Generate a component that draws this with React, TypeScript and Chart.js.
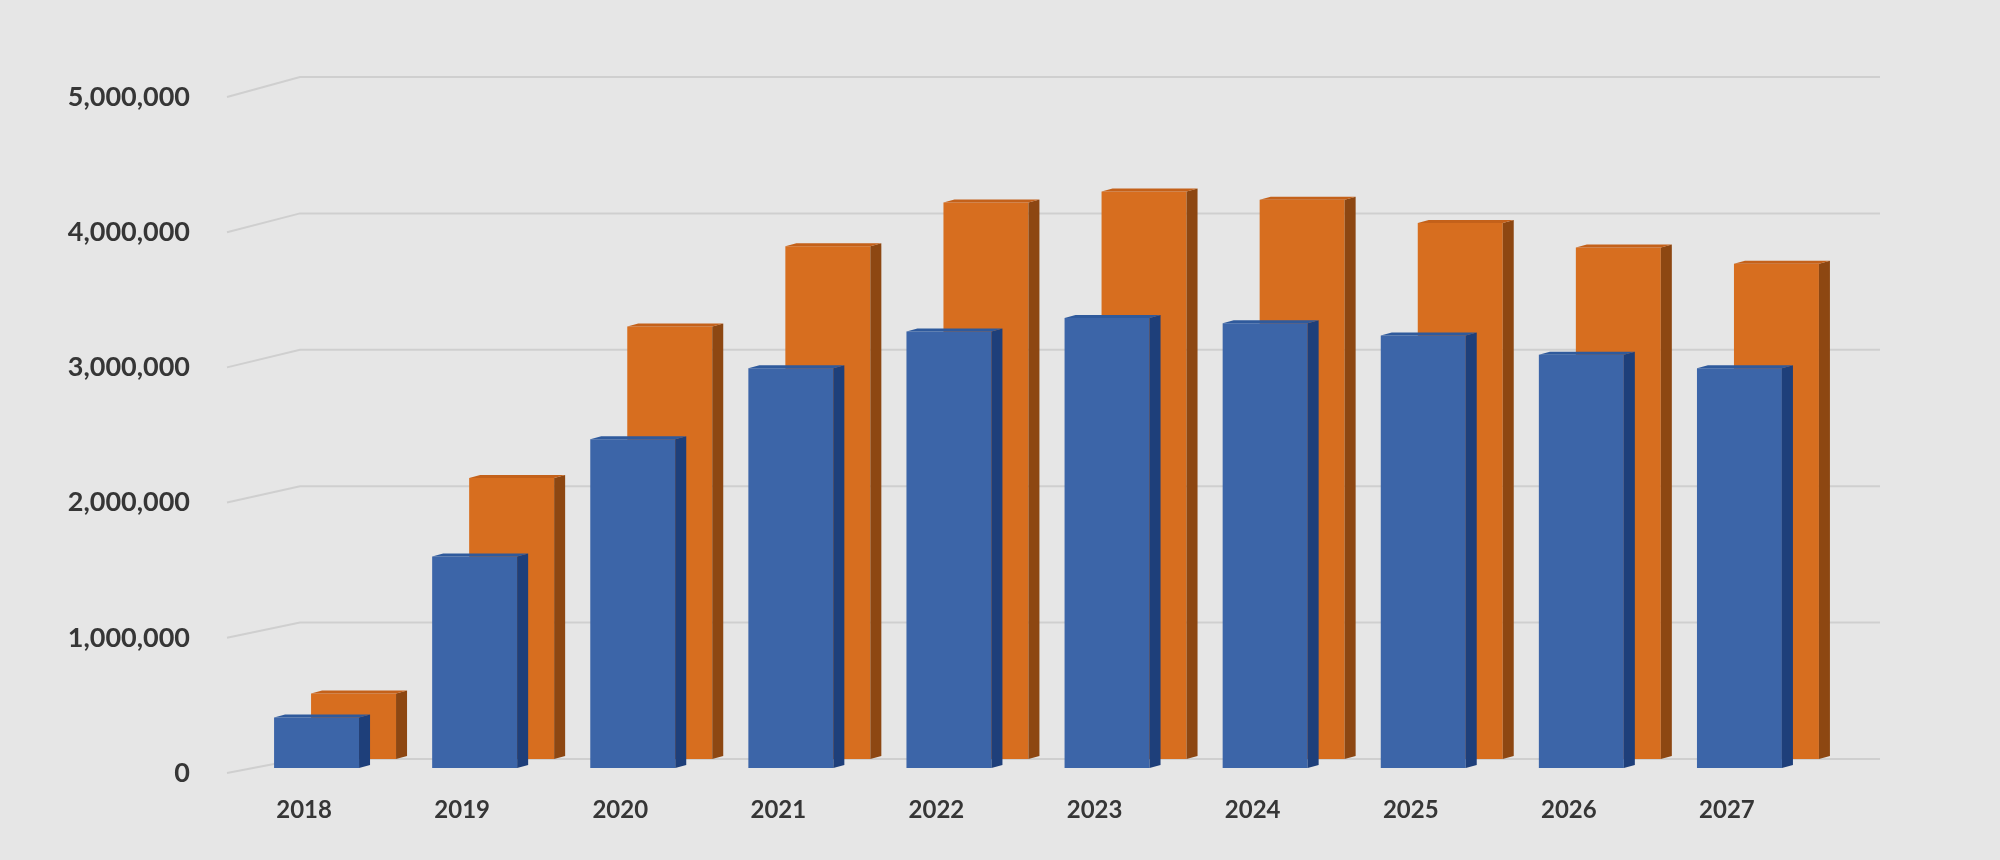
import React, { useEffect, useRef } from "react";
import { Chart, registerables } from "chart.js";

Chart.register(...registerables);

// ---- Data ----
const years = ["2018", "2019", "2020", "2021", "2022", "2023", "2024", "2025", "2026", "2027"];
const frontSeries = [370000, 1550000, 2410000, 2930000, 3200000, 3300000, 3260000, 3170000, 3030000, 2930000];
const backSeries = [480000, 2060000, 3170000, 3760000, 4080000, 4160000, 4100000, 3930000, 3750000, 3630000];
const yTickValues = [0, 1000000, 2000000, 3000000, 4000000, 5000000];

// ---- Layout ----
const W = 2000;
const H = 860;
const PAD_TOP = 60;
const X_AXIS_H = 70;
const PLOT_BOTTOM = H - X_AXIS_H;
const PLOT_LEFT = 256;
const PAD_RIGHT = 163;

function rangeFor(zeroPx: number, pxPerUnit: number) {
  const min = -(PLOT_BOTTOM - zeroPx) / pxPerUnit;
  const max = min + (PLOT_BOTTOM - PAD_TOP) / pxPerUnit;
  return { min, max };
}
const frontRange = rangeFor(768, 136.4e-6);
const backRange = rangeFor(759, 136.4e-6);
const labelRange = rangeFor(773, 135.2e-6);

const BG = "#e6e6e6";
const GRID = "#cfcfcf";
const TEXT = "#363636";
const FONT = "Lato, 'Open Sans', 'DejaVu Sans', sans-serif";

const faceColors: Record<number, { side: string; top: string }> = {
  0: { side: "#1e3f7a", top: "#2f5a9c" },
  1: { side: "#8d4712", top: "#c4611a" },
};

const DEPTH_DX = 11;
const DEPTH_DY = -3;

const gridPlugin = {
  id: "wallGrid",
  beforeDatasetsDraw(chart: any) {
    const { ctx, chartArea, scales } = chart;
    const front = scales.yl;
    const back = scales.y2;
    ctx.save();
    ctx.strokeStyle = GRID;
    ctx.lineWidth = 2;
    for (const v of yTickValues) {
      const yf = front.getPixelForValue(v);
      const yb = back.getPixelForValue(v);
      ctx.beginPath();
      ctx.moveTo(chartArea.left - 29, yf);
      ctx.lineTo(chartArea.left + 44, yb);
      ctx.lineTo(chartArea.right + 43, yb);
      ctx.stroke();
    }
    ctx.restore();
  },
};

const bar3dPlugin = {
  id: "bar3d",
  afterDatasetDraw(chart: any, args: any) {
    const { ctx } = chart;
    const colors = faceColors[args.index];
    if (!colors) return;
    ctx.save();
    for (const el of args.meta.data) {
      const { x, y, base, width } = el.getProps(["x", "y", "base", "width"], true);
      const xl = x - width / 2;
      const xr = x + width / 2;
      // side face
      ctx.fillStyle = colors.side;
      ctx.beginPath();
      ctx.moveTo(xr, y);
      ctx.lineTo(xr + DEPTH_DX, y + DEPTH_DY);
      ctx.lineTo(xr + DEPTH_DX, base + DEPTH_DY);
      ctx.lineTo(xr, base);
      ctx.closePath();
      ctx.fill();
      // top face
      ctx.fillStyle = colors.top;
      ctx.beginPath();
      ctx.moveTo(xl, y);
      ctx.lineTo(xl + DEPTH_DX, y + DEPTH_DY);
      ctx.lineTo(xr + DEPTH_DX, y + DEPTH_DY);
      ctx.lineTo(xr, y);
      ctx.closePath();
      ctx.fill();
    }
    ctx.restore();
  },
};

export default function App() {
  const canvasRef = useRef<HTMLCanvasElement | null>(null);

  useEffect(() => {
    if (!canvasRef.current) return;
    const chart = new Chart(canvasRef.current, {
      type: "bar",
      data: {
        labels: years,
        datasets: [
          {
            label: "Series 1",
            data: frontSeries,
            backgroundColor: "#3c65a8",
            yAxisID: "y",
            order: 0,
          },
          {
            label: "Series 2",
            data: backSeries,
            backgroundColor: "#d76e1f",
            yAxisID: "y2",
            order: 1,
          },
        ],
      },
      options: {
        responsive: false,
        animation: false,
        layout: { padding: { top: PAD_TOP, right: PAD_RIGHT, left: 0, bottom: 0 } },
        plugins: { legend: { display: false }, tooltip: { enabled: false } },
        datasets: {
          bar: { categoryPercentage: 0.468, barPercentage: 2.297 },
        },
        scales: {
          x: {
            type: "category",
            offset: true,
            grid: { display: false, drawTicks: false },
            border: { display: false },
            ticks: {
              color: TEXT,
              font: { family: FONT, size: 24, weight: "bold" },
              padding: 6,
              labelOffset: -31,
              maxRotation: 0,
              autoSkip: false,
            },
            afterFit: (s: any) => {
              s.height = X_AXIS_H;
              s.paddingLeft = 0;
              s.paddingRight = 0;
            },
          },
          yl: {
            type: "linear",
            position: "left",
            min: labelRange.min,
            max: labelRange.max,
            grid: { display: false, drawTicks: false },
            border: { display: false },
            ticks: {
              color: TEXT,
              font: { family: FONT, size: 27, weight: "bold" },
              padding: 66,
              callback: (v: any) => Number(v).toLocaleString("en-US"),
            },
            afterBuildTicks: (s: any) => {
              s.ticks = yTickValues.map((v) => ({ value: v }));
            },
            afterFit: (s: any) => {
              s.width = PLOT_LEFT;
              s.paddingTop = 0;
              s.paddingBottom = 0;
            },
          },
          y: {
            type: "linear",
            display: false,
            min: frontRange.min,
            max: frontRange.max,
          },
          y2: {
            type: "linear",
            display: false,
            min: backRange.min,
            max: backRange.max,
          },
        },
      } as any,
      plugins: [gridPlugin, bar3dPlugin],
    });
    return () => chart.destroy();
  }, []);

  return (
    <div style={{ position: "absolute", left: 0, top: 0, width: W, height: H, background: BG }}>
      <canvas ref={canvasRef} width={W} height={H} style={{ display: "block", width: W, height: H }} />
    </div>
  );
}
